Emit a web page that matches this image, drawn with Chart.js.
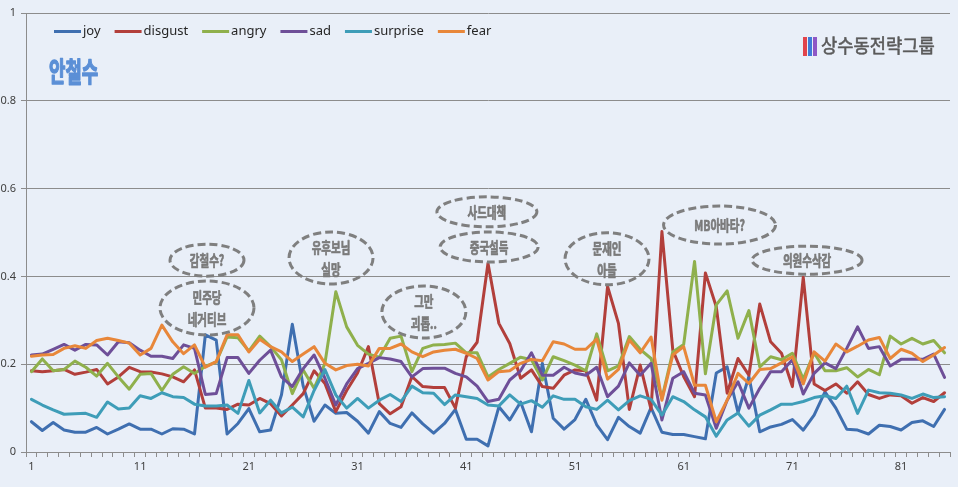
<!DOCTYPE html>
<html><head><meta charset="utf-8">
<script src="https://cdn.jsdelivr.net/npm/chart.js@4/dist/chart.umd.min.js"></script>
<style>html,body{margin:0;padding:0;background:#E9EFF8;}canvas{display:block;}</style>
</head><body>
<canvas id="c" width="958" height="487" style="width:958px;height:487px"></canvas>
<script>
const categories = ['1','2','3','4','5','6','7','8','9','10','11','12','13','14','15','16','17','18','19','20',
'21','22','23','24','25','26','27','28','29','30','31','32','33','34','35','36','37','38','39','40',
'41','42','43','44','45','46','47','48','49','50','51','52','53','54','55','56','57','58','59','60',
'61','62','63','64','65','66','67','68','69','70','71','72','73','74','75','76','77','78','79','80',
'81','82','83','84','85'];
const xTickLabels = ['1','11','21','31','41','51','61','71','81'];
const yTickValues = [0, 0.2, 0.4, 0.6, 0.8, 1];

const joy = [0.069,0.049,0.067,0.050,0.045,0.045,0.056,0.041,0.052,0.064,0.052,0.052,0.041,0.053,0.052,
0.041,0.267,0.255,0.041,0.065,0.099,0.046,0.050,0.130,0.291,0.150,0.070,0.107,0.088,0.090,
0.070,0.043,0.092,0.065,0.056,0.089,0.064,0.043,0.065,0.097,0.029,0.029,0.014,0.103,0.073,
0.114,0.046,0.202,0.077,0.052,0.074,0.120,0.062,0.028,0.079,0.058,0.043,0.101,0.045,0.040,
0.040,0.035,0.030,0.180,0.194,0.090,0.172,0.046,0.057,0.063,0.074,0.050,0.084,0.137,0.100,
0.052,0.050,0.041,0.061,0.058,0.050,0.067,0.071,0.058,0.097];
const disgust = [0.185,0.183,0.185,0.188,0.177,0.182,0.188,0.155,0.171,0.193,0.183,0.182,0.178,0.171,0.160,
0.187,0.100,0.100,0.097,0.109,0.107,0.122,0.110,0.082,0.107,0.133,0.185,0.156,0.092,0.140,
0.180,0.240,0.110,0.087,0.103,0.172,0.149,0.147,0.147,0.100,0.217,0.250,0.430,0.293,0.247,
0.168,0.187,0.149,0.145,0.175,0.187,0.185,0.118,0.377,0.293,0.097,0.198,0.097,0.502,0.232,
0.172,0.126,0.408,0.331,0.134,0.213,0.175,0.337,0.251,0.225,0.149,0.398,0.155,0.140,0.155,
0.134,0.160,0.131,0.122,0.130,0.128,0.111,0.124,0.115,0.135];
const angry = [0.183,0.212,0.185,0.188,0.207,0.193,0.173,0.202,0.171,0.143,0.177,0.179,0.140,0.177,0.194,
0.179,0.195,0.205,0.262,0.260,0.230,0.264,0.240,0.210,0.133,0.187,0.145,0.202,0.365,0.285,
0.243,0.223,0.216,0.259,0.264,0.183,0.236,0.244,0.245,0.248,0.226,0.226,0.171,0.188,0.202,
0.216,0.210,0.164,0.217,0.208,0.198,0.185,0.269,0.185,0.196,0.263,0.234,0.213,0.122,0.228,
0.245,0.434,0.178,0.335,0.367,0.259,0.322,0.194,0.217,0.210,0.225,0.166,0.226,0.185,0.185,
0.192,0.171,0.188,0.176,0.264,0.246,0.259,0.246,0.254,0.226];
const sad = [0.221,0.223,0.234,0.245,0.232,0.245,0.244,0.221,0.251,0.249,0.232,0.218,0.218,0.213,0.244,
0.236,0.131,0.133,0.215,0.215,0.179,0.209,0.232,0.171,0.149,0.190,0.221,0.168,0.107,0.155,
0.190,0.202,0.215,0.212,0.206,0.171,0.190,0.191,0.191,0.179,0.171,0.150,0.115,0.120,0.164,
0.185,0.226,0.175,0.175,0.193,0.180,0.175,0.193,0.126,0.150,0.203,0.175,0.202,0.073,0.168,
0.183,0.134,0.130,0.054,0.118,0.160,0.100,0.145,0.183,0.183,0.210,0.132,0.179,0.203,0.190,
0.236,0.285,0.236,0.240,0.196,0.211,0.211,0.211,0.223,0.170];
const surprise = [0.120,0.107,0.096,0.086,0.087,0.088,0.079,0.114,0.098,0.100,0.128,0.122,0.135,0.126,0.124,
0.109,0.105,0.105,0.107,0.088,0.163,0.089,0.118,0.089,0.102,0.080,0.140,0.188,0.130,0.100,
0.122,0.100,0.118,0.131,0.115,0.150,0.135,0.134,0.108,0.130,0.126,0.122,0.107,0.105,0.130,
0.109,0.117,0.102,0.128,0.120,0.120,0.103,0.097,0.118,0.096,0.117,0.128,0.120,0.084,0.126,
0.115,0.096,0.080,0.036,0.073,0.089,0.059,0.084,0.096,0.109,0.109,0.115,0.124,0.128,0.122,
0.150,0.088,0.141,0.135,0.134,0.130,0.122,0.132,0.124,0.126];
const fear = [0.218,0.221,0.222,0.236,0.242,0.236,0.254,0.259,0.254,0.248,0.221,0.236,0.289,0.251,0.224,
0.244,0.193,0.206,0.267,0.267,0.228,0.257,0.240,0.228,0.206,0.223,0.240,0.202,0.187,0.197,
0.200,0.196,0.236,0.236,0.246,0.228,0.217,0.228,0.232,0.234,0.225,0.213,0.164,0.183,0.185,
0.202,0.211,0.208,0.251,0.246,0.234,0.234,0.257,0.166,0.188,0.255,0.226,0.262,0.118,0.221,
0.240,0.152,0.152,0.069,0.118,0.179,0.156,0.188,0.190,0.203,0.217,0.155,0.228,0.207,0.246,
0.228,0.241,0.255,0.261,0.213,0.234,0.225,0.206,0.221,0.238];

const seriesNames = ['joy','disgust','angry','sad','surprise','fear'];
const seriesValues = [joy, disgust, angry, sad, surprise, fear];
const seriesColors = ['#3F6FB0','#B23F3B','#8FB04C','#6E4F98','#3E9DB8','#E8873A'];

const chartTitle = '안철수';
const brandName = '상수동전략그룹';
// annotation callouts: text lines, anchored at a category index and a value
const notes = [
  { lines: ['감철수?'], at: 17.15, value: 0.437, rx: 37, ry: 16 },
  { lines: ['민주당','네거티브'], at: 17.15, value: 0.328, rx: 47, ry: 27 },
  { lines: ['유후보님','실망'], at: 28.56, value: 0.442, rx: 42, ry: 26 },
  { lines: ['그만','괴롭..'], at: 37.1, value: 0.319, rx: 42, ry: 26 },
  { lines: ['사드대책'], at: 42.9, value: 0.547, rx: 50, ry: 15 },
  { lines: ['중국설득'], at: 43.1, value: 0.467, rx: 49, ry: 15 },
  { lines: ['문재인','아들'], at: 53.95, value: 0.44, rx: 42, ry: 26 },
  { lines: ['MB아바타?'], at: 64.3, value: 0.517, rx: 56, ry: 19 },
  { lines: ['의원수삭감'], at: 72.35, value: 0.437, rx: 55, ry: 14 }
];

const BG = '#E9EFF8';
const GRID = '#8C8C8C';
const AXIS_TEXT = '#404040';

const bgPlugin = {
  id: 'bg',
  beforeDraw(chart) {
    const c = chart.ctx;
    c.save(); c.fillStyle = BG; c.fillRect(0, 0, chart.width, chart.height); c.restore();
  }
};

function condensedText(c, text, x, y, sx, strokeW) {
  c.save(); c.translate(x, y); c.scale(sx, 1);
  if (strokeW) { c.lineWidth = strokeW; c.strokeStyle = c.fillStyle; c.lineJoin = 'round'; c.strokeText(text, 0, 0); }
  c.fillText(text, 0, 0); c.restore();
}

const overlayPlugin = {
  id: 'overlay',
  afterDatasetsDraw(chart) {
    const c = chart.ctx;
    const xs = chart.scales.x, ys = chart.scales.y;
    notes.forEach(n => {
      const cx = xs.getPixelForValue(n.at - 1);
      const cy = ys.getPixelForValue(n.value);
      c.save();
      c.beginPath();
      c.ellipse(cx, cy, n.rx, n.ry, 0, 0, Math.PI * 2);
      c.setLineDash([8, 4]);
      c.lineWidth = 3;
      c.strokeStyle = '#7F7F7F';
      c.stroke();
      c.setLineDash([]);
      c.fillStyle = '#7A7A7A';
      c.font = 'bold 15px "Noto Sans CJK KR"';
      c.textAlign = 'center';
      c.textBaseline = 'middle';
      const lh = 22;
      const y0 = cy - (n.lines.length - 1) * lh / 2;
      n.lines.forEach((t, k) => condensedText(c, t, cx, y0 + k * lh, 0.7, 0.7));
      c.restore();
    });
  },
  afterDraw(chart) {
    const c = chart.ctx;
    // legend
    c.save();
    c.font = '13px "Noto Sans"';
    c.textBaseline = 'middle';
    let x = 54;
    const ly = 31.5;
    seriesNames.forEach((name, i) => {
      c.strokeStyle = seriesColors[i];
      c.lineWidth = 3;
      c.beginPath(); c.moveTo(x, ly); c.lineTo(x + 27, ly); c.stroke();
      c.fillStyle = '#262626';
      c.textAlign = 'left';
      c.fillText(name, x + 29, ly);
      x += 29 + c.measureText(name).width + 14;
    });
    c.restore();
    // title
    c.save();
    c.fillStyle = '#5B8FD6';
    c.font = 'bold 27px "Noto Sans CJK KR"';
    c.textAlign = 'left';
    c.textBaseline = 'middle';
    condensedText(c, chartTitle, 49, 72, 0.66, 1.4);
    c.restore();
    // brand
    c.save();
    const barCols = ['#E2444C', '#3F7CD8', '#8E58C6'];
    barCols.forEach((col, k) => { c.fillStyle = col; c.fillRect(803 + k * 5, 37, 4, 19); });
    c.fillStyle = '#5A5A5A';
    c.font = '19px "Noto Sans CJK KR"';
    c.textAlign = 'left';
    c.textBaseline = 'middle';
    condensedText(c, brandName, 821, 46, 0.93, 0.6);
    c.restore();
  }
};

const datasets = seriesNames.map((name, i) => ({
  label: name,
  data: seriesValues[i],
  borderColor: seriesColors[i],
  backgroundColor: seriesColors[i],
  borderWidth: 3,
  tension: 0,
  pointRadius: 0,
  fill: false,
  order: seriesNames.length - i
}));

new Chart(document.getElementById('c'), {
  type: 'line',
  data: { labels: categories, datasets },
  options: {
    responsive: false,
    animation: false,
    devicePixelRatio: 1,
    layout: { padding: { top: 13, right: 8, left: 0, bottom: 0 } },
    plugins: { legend: { display: false }, tooltip: { enabled: false } },
    elements: { line: { borderJoinStyle: 'round', borderCapStyle: 'round' } },
    scales: {
      x: {
        type: 'category',
        offset: true,
        grid: { offset: true, drawOnChartArea: false, drawTicks: true, tickLength: 5, color: GRID },
        border: { color: GRID, width: 1 },
        ticks: {
          autoSkip: false, maxRotation: 0, minRotation: 0, padding: 3,
          color: AXIS_TEXT, font: { family: '"Liberation Sans Narrow", "Noto Sans"', size: 11 },
          callback: function (v) { const l = this.getLabelForValue(v); return xTickLabels.includes(l) ? l : ''; }
        },
        afterFit: s => { s.height = 35; }
      },
      y: {
        min: 0, max: 1,
        afterBuildTicks: s => { s.ticks = yTickValues.map(v => ({ value: v })); },
        grid: { color: GRID, tickLength: 5, lineWidth: 1 },
        border: { color: GRID, width: 1 },
        ticks: { padding: 5, color: AXIS_TEXT, font: { family: '"Noto Sans"', size: 11 }, callback: v => String(v) },
        afterFit: s => { s.width = 26; }
      }
    }
  },
  plugins: [bgPlugin, overlayPlugin]
});
</script>
</body></html>
